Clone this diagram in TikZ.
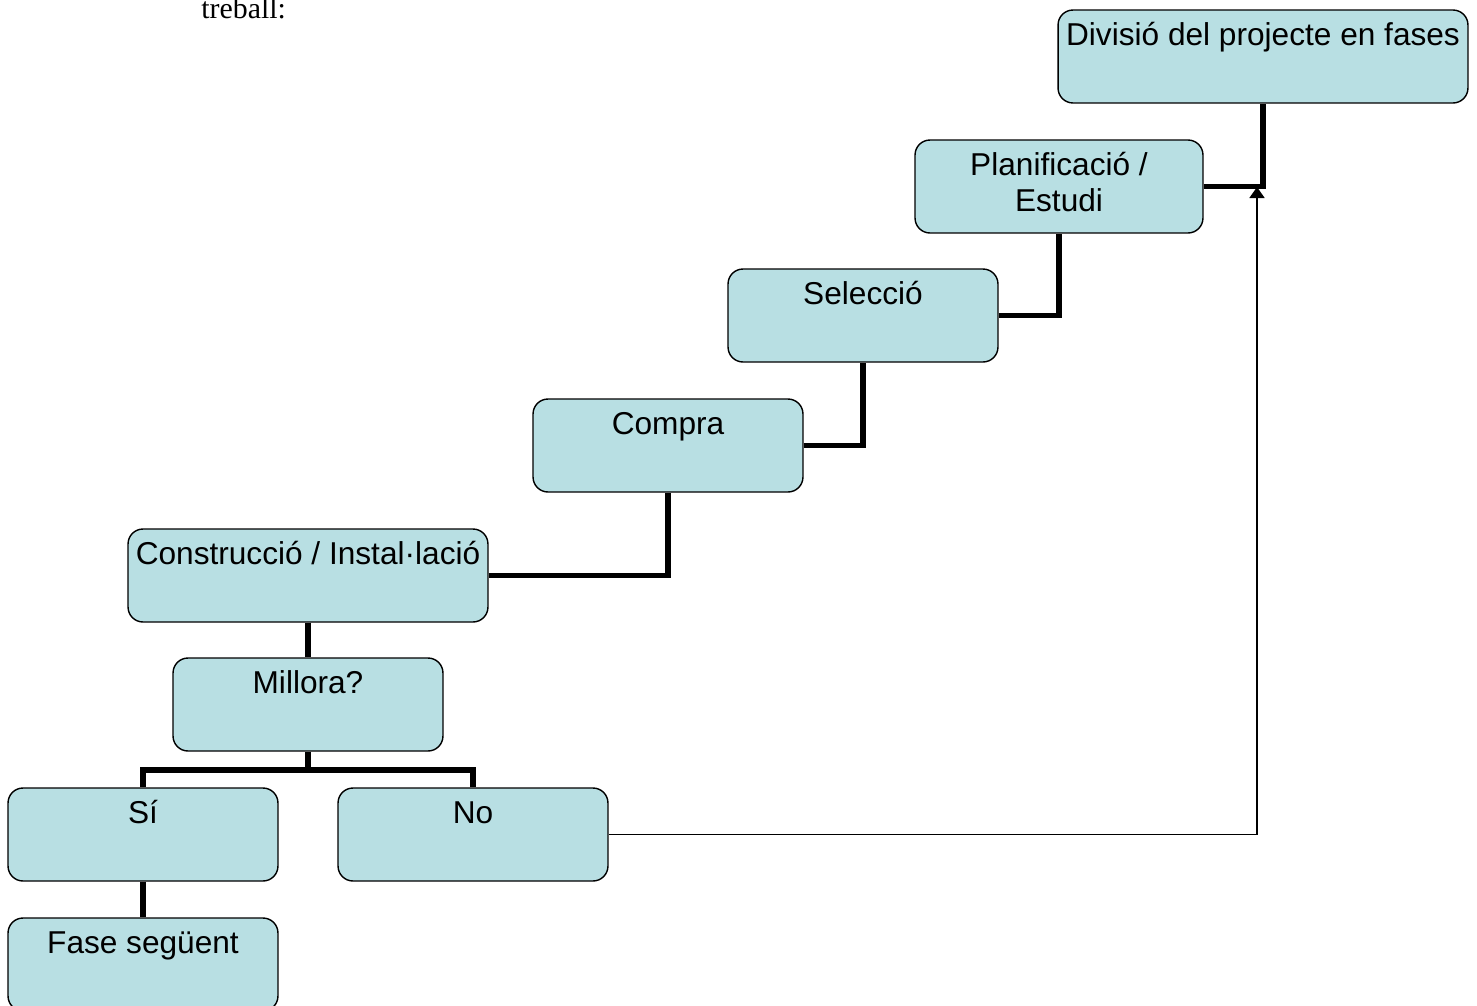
\documentclass[tikz,border=0pt]{standalone}
\usepackage{fontspec}
\setmainfont{Liberation Sans}
\newfontfamily\timesfont{Liberation Serif}
\definecolor{boxaqua}{RGB}{184,223,227}
\usetikzlibrary{arrows.meta}

\begin{document}
\begin{tikzpicture}[x=0.02cm, y=-0.02cm,
  fase/.style={draw=black, line width=0.8pt, fill=boxaqua, rounded corners=0.3cm, minimum width=5.4cm, minimum height=1.86cm, inner sep=0pt, text height=0.7cm, text depth=1.16cm, align=center, font=\fontsize{18}{20.4}\selectfont},
  link/.style={line width=3pt},
  back/.style={line width=1pt, -{Triangle[length=0.22cm, width=0.3cm]}}
]
  \useasboundingbox (0,0) rectangle (1477,1005);

  %% Text above the chart
  \node[anchor=base west, inner sep=0pt, font=\timesfont\fontsize{17}{20}\selectfont] (intro) at (201,18) {treball:};

  %% Phases
  \node[fase, minimum width=8.2cm]  (div)  at (1263,56.5)  {Divisió del projecte en fases};
  \node[fase, minimum width=5.76cm, text height=1.42cm, text depth=0.44cm] (plan) at (1059,186.5) {Planificació /\\Estudi};
  \node[fase]                       (sel)  at (863,315.5)  {Selecció};
  \node[fase]                       (comp) at (668,445.5)  {Compra};
  \node[fase, minimum width=7.2cm]  (cons) at (308,575.5)  {Construcció / Instal·lació};
  \node[fase]                       (mill) at (308,704.5)  {Millora?};
  \node[fase]                       (si)   at (143,834.5)  {Sí};
  \node[fase]                       (no)   at (473,834.5)  {No};
  \node[fase]                       (next) at (143,964.5)  {Fase següent};

  %% Steps
  \draw[link] (plan.east) -| (div.south);
  \draw[link] (sel.east) -| (plan.south);
  \draw[link] (comp.east) -| (sel.south);
  \draw[link] (cons.east) -| (comp.south);
  \draw[link] (cons.south) -- (mill.north);

  %% Decision
  \coordinate (fork) at (308,770);
  \draw[link] (mill.south) -- (fork);
  \draw[link] (fork) -| (si.north);
  \draw[link] (fork) -| (no.north);
  \draw[link] (si.south) -- (next.north);

  %% Back to the start
  \coordinate (restart) at (1257,187);
  \draw[back] (no.east) -| (restart);
\end{tikzpicture}
\end{document}
